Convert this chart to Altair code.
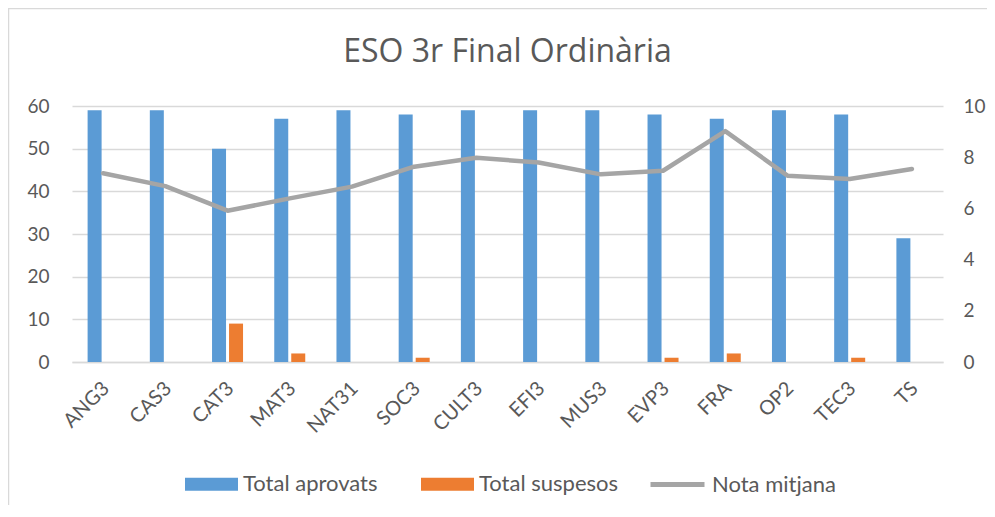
import altair as alt
import pandas as pd

assignatures = ["ANG3", "CAS3", "CAT3", "MAT3", "NAT31", "SOC3", "CULT3",
                "EFI3", "MUS3", "EVP3", "FRA", "OP2", "TEC3", "TS"]
aprovats = [59, 59, 50, 57, 59, 58, 59, 59, 59, 58, 57, 59, 58, 29]
suspesos = [0, 0, 9, 2, 0, 1, 0, 0, 0, 1, 2, 0, 1, 0]
nota = [7.37, 6.87, 5.91, 6.39, 6.85, 7.63, 7.98, 7.79, 7.33, 7.47, 9.02, 7.28, 7.15, 7.54]
left_ticks = [0, 10, 20, 30, 40, 50, 60]
right_ticks = [0, 2, 4, 6, 8, 10]
series_bars = ["Total aprovats", "Total suspesos"]
series_line = ["Nota mitjana"]

df = pd.DataFrame({"Assignatura": assignatures, "aprovats": aprovats,
                   "suspesos": suspesos, "nota": nota})

W, H = 871, 256
PL, PT, PR, PB = 64, 98, 44, 143
TXT = "#595959"
GRID = "#d9d9d9"
FONT = "Lato"

x = alt.X("Assignatura:N", sort=assignatures,
          scale=alt.Scale(paddingInner=0, paddingOuter=0),
          axis=alt.Axis(title=None, labelAngle=-45, labelFontSize=20, labelFont=FONT,
                        labelColor=TXT, ticks=False, domainColor=GRID, domainWidth=1.3,
                        labelPadding=16, labelOffset=-4, grid=False))

yleft_scale = alt.Scale(domain=[0, 60])
yleft_axis = alt.Axis(title=None, values=left_ticks, grid=True, gridColor=GRID, gridWidth=1.3,
                      domain=False, ticks=False, labelFontSize=19, labelFont=FONT,
                      labelColor=TXT, labelPadding=23)

color = alt.Color("serie:N", scale=alt.Scale(domain=series_bars, range=["#5b9bd5", "#ed7d31"]),
                  legend=alt.Legend(title=None, orient="none", legendX=113, legendY=351.5,
                                    direction="horizontal", symbolType="M-1,-0.245H1V0.245H-1Z",
                                    symbolSize=2809, symbolStrokeWidth=0, labelFontSize=22,
                                    labelFont=FONT, labelColor=TXT, labelOffset=5,
                                    columnPadding=43))

base = alt.Chart(df)

bar_a = base.transform_calculate(serie="'Total aprovats'").mark_bar(width=14, xOffset=-8.5).encode(
    x=x, y=alt.Y("aprovats:Q", scale=yleft_scale, axis=yleft_axis), color=color)
bar_b = base.transform_calculate(serie="'Total suspesos'").mark_bar(width=14, xOffset=8.5).encode(
    x=x, y=alt.Y("suspesos:Q", scale=yleft_scale), color=color)

border = alt.Chart(pd.DataFrame({"k": [0]})).mark_rect(
    fillOpacity=0, stroke=GRID, strokeWidth=1.5).encode(
    x=alt.value(-PL + 0.5), y=alt.value(-PT + 0.5),
    x2=alt.value(W + PR + 300), y2=alt.value(H + PB + 300))

bars = alt.layer(border, bar_a, bar_b)

line = base.transform_calculate(serie2="'Nota mitjana'").mark_line(
    strokeWidth=4.5, strokeCap="round", strokeJoin="round").encode(
    x=x,
    y=alt.Y("nota:Q", scale=alt.Scale(domain=[0, 10]),
            axis=alt.Axis(title=None, orient="right", values=right_ticks, grid=False,
                          domain=False, ticks=False, labelFontSize=19, labelFont=FONT,
                          labelColor=TXT, labelPadding=20)),
    stroke=alt.Stroke("serie2:N", scale=alt.Scale(domain=series_line, range=["#a5a5a5"]),
                      legend=alt.Legend(title=None, orient="none", legendX=576, legendY=349,
                                        symbolType="stroke", symbolSize=2916,
                                        symbolStrokeWidth=5, labelFontSize=22,
                                        labelFont=FONT, labelColor=TXT, labelOffset=5)))

chart = alt.layer(bars, line).resolve_scale(y="independent", color="independent").properties(
    width=W, height=H,
    padding={"left": PL, "top": PT, "right": PR, "bottom": PB},
    autosize=alt.AutoSizeParams(type="none"),
    title=alt.TitleParams("ESO 3r Final Ordinària", fontSize=32, font="Open Sans",
                          color=TXT, fontWeight="normal", offset=-61, anchor="middle",
                          frame="group"),
    background="white",
).configure_view(stroke=None)

chart.save("out.html", embed_options={"renderer": "svg", "actions": False})
